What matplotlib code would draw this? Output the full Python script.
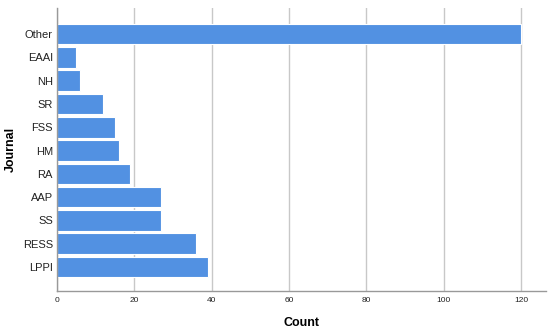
import matplotlib
matplotlib.use('Agg')
import matplotlib.pyplot as plt
import numpy as np

plt.rcParams['font.family'] = ['Liberation Sans', 'DejaVu Sans']

# journals from bottom to top
journals = ['LPPI', 'RESS', 'SS', 'AAP', 'RA', 'HM', 'FSS', 'SR', 'NH', 'EAAI', 'Other']
counts = [39, 36, 27, 27, 19, 16, 15, 12, 6, 5, 120]
xticks = [0, 20, 40, 60, 80, 100, 120]

fig = plt.figure(figsize=(5.5, 3.28), dpi=100)
ax = fig.add_axes([0.1036, 0.1128, 0.8891, 0.8628])

y = np.arange(len(journals))
ax.barh(y, counts, height=0.88, color='#5291E2', edgecolor='white', linewidth=0.8, zorder=2)

ax.set_xlim(0, 126.4)
ax.set_ylim(-1.03, 11.12)
ax.set_xticks(xticks)
ax.set_xticklabels([str(t) for t in xticks], fontsize=6, color='#222222')
ax.set_yticks(y)
ax.set_yticklabels(journals, fontsize=8, color='#222222')
ax.tick_params(axis='y', length=0, pad=3)
ax.tick_params(axis='x', length=0, pad=4)

ax.grid(axis='x', color='#c8c8c8', linewidth=1, zorder=0)
ax.set_axisbelow(True)
for s in ['top', 'right']:
    ax.spines[s].set_visible(False)
for s in ['left', 'bottom']:
    ax.spines[s].set_color('#999999')
    ax.spines[s].set_linewidth(1)

ax.set_xlabel('Count', fontsize=9, fontweight='bold', labelpad=10)
ax.set_ylabel('Journal', fontsize=9, fontweight='bold')
ax.yaxis.set_label_coords(-0.083, 0.5)

plt.savefig('out.png', dpi=100)
